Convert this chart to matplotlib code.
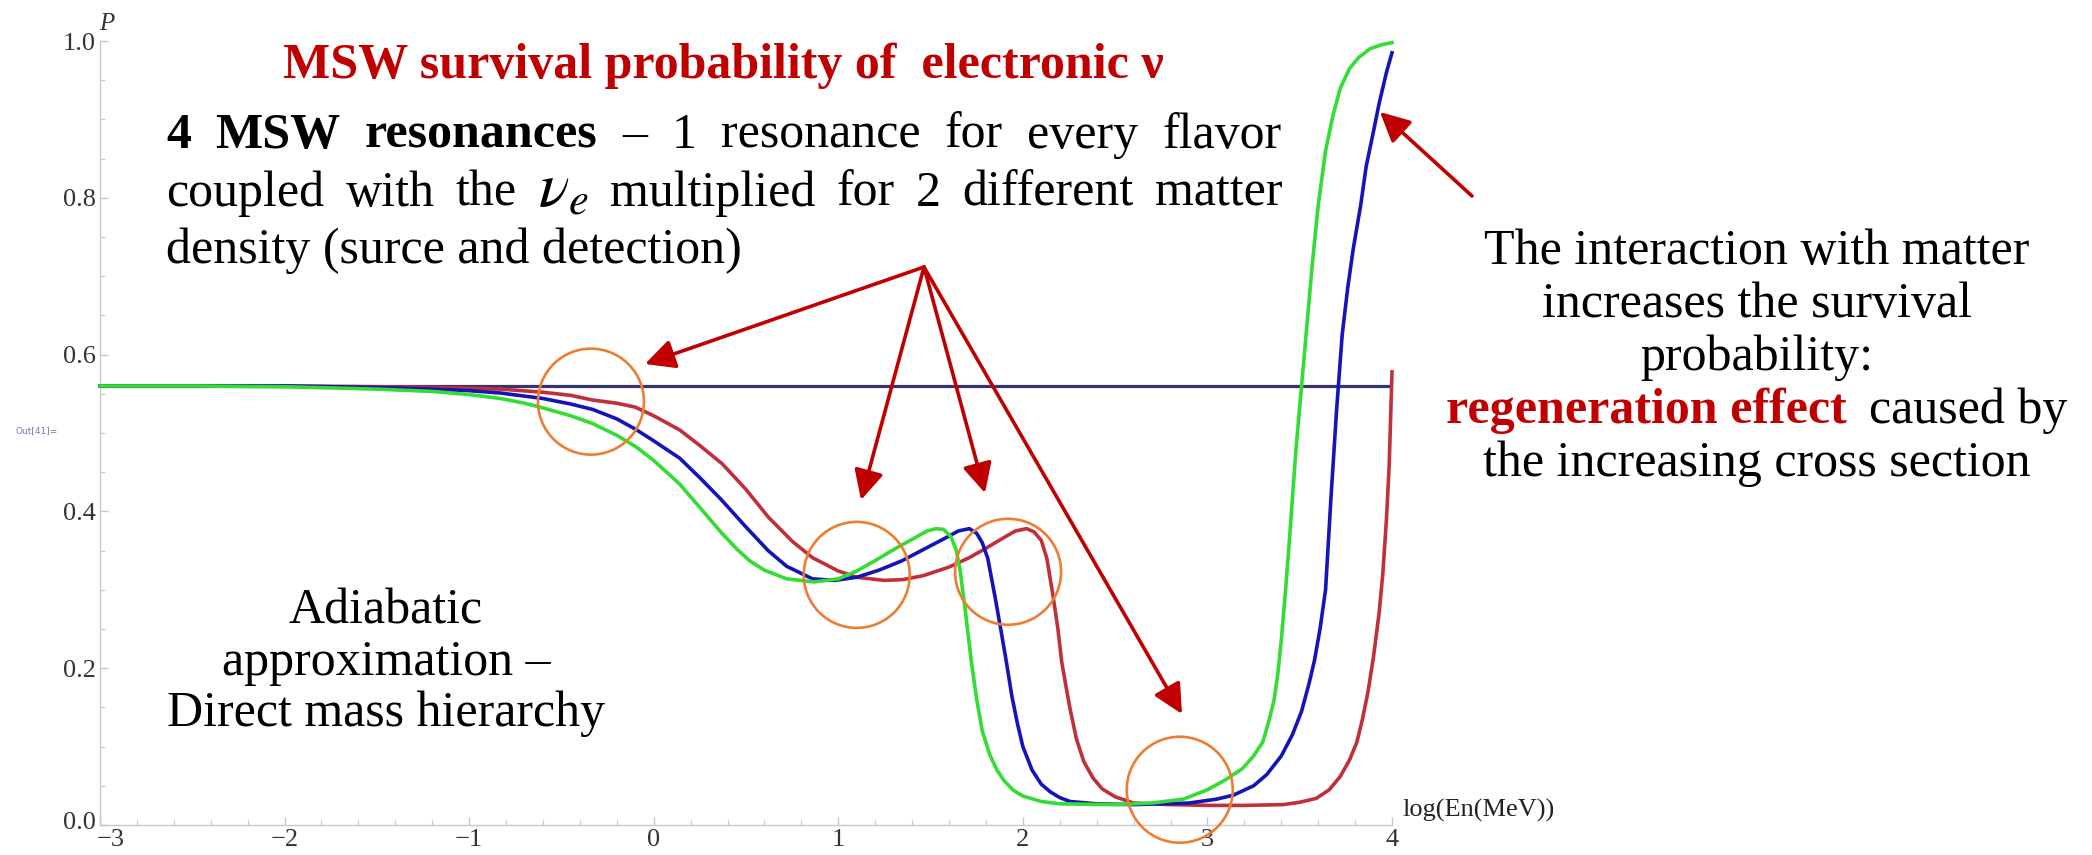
import matplotlib
matplotlib.use("Agg")
import matplotlib.pyplot as plt
from matplotlib.patches import Ellipse
from matplotlib.ticker import MultipleLocator
from matplotlib.transforms import ScaledTranslation

W, H = 2092, 855

# survival probability vs log10(E/MeV)
x_green = [-3.0, -2.5, -2.0, -1.5, -1.2, -1.0, -0.83, -0.7, -0.6, -0.45,
           -0.33, -0.2, -0.1, 0.0, 0.14, 0.25, 0.37, 0.45, 0.52, 0.6,
           0.72, 0.87, 1.0, 1.1, 1.22, 1.32, 1.42, 1.48, 1.53, 1.57,
           1.61, 1.64, 1.66, 1.69, 1.72, 1.75, 1.78, 1.82, 1.86, 1.9,
           1.95, 2.0, 2.1, 2.2, 2.5, 2.7, 2.87, 3.0, 3.1, 3.19,
           3.25, 3.3, 3.33, 3.36, 3.38, 3.40, 3.42, 3.44, 3.46, 3.48,
           3.51, 3.54, 3.57, 3.60, 3.64, 3.68, 3.72, 3.77, 3.82, 3.88,
           3.94, 4.0]
p_green = [0.560, 0.560, 0.559, 0.556, 0.553, 0.549, 0.544, 0.538, 0.532, 0.522,
           0.512, 0.497, 0.483, 0.465, 0.435, 0.405, 0.372, 0.352, 0.337, 0.325,
           0.314, 0.310, 0.314, 0.324, 0.340, 0.354, 0.367, 0.375, 0.378, 0.377,
           0.368, 0.350, 0.325, 0.270, 0.210, 0.160, 0.120, 0.090, 0.070, 0.056,
           0.044, 0.037, 0.030, 0.027, 0.026, 0.028, 0.033, 0.045, 0.058, 0.072,
           0.088, 0.106, 0.130, 0.158, 0.190, 0.235, 0.290, 0.350, 0.415, 0.480,
           0.560, 0.640, 0.720, 0.790, 0.860, 0.905, 0.940, 0.965, 0.979, 0.990,
           0.995, 0.998]

x_blue = [-3.0, -2.5, -2.0, -1.5, -1.2, -1.0, -0.83, -0.6, -0.45, -0.33,
          -0.2, -0.1, 0.0, 0.14, 0.25, 0.37, 0.5, 0.62, 0.72, 0.86,
          0.98, 1.1, 1.22, 1.345, 1.45, 1.58, 1.65, 1.71, 1.75, 1.78,
          1.81, 1.85, 1.88, 1.91, 1.94, 1.97, 2.0, 2.05, 2.1, 2.15,
          2.2, 2.255, 2.4, 2.6, 2.9, 3.05, 3.14, 3.25, 3.32, 3.4,
          3.46, 3.51, 3.55, 3.58, 3.61, 3.64, 3.67, 3.70, 3.73, 3.76,
          3.79, 3.83, 3.86, 3.9, 3.93, 3.97, 4.0]
p_blue = [0.560, 0.560, 0.560, 0.558, 0.556, 0.554, 0.551, 0.544, 0.537, 0.530,
          0.518, 0.505, 0.490, 0.468, 0.443, 0.414, 0.380, 0.350, 0.330, 0.314,
          0.312, 0.316, 0.325, 0.337, 0.350, 0.366, 0.375, 0.378, 0.372, 0.360,
          0.340, 0.290, 0.250, 0.209, 0.165, 0.130, 0.100, 0.070, 0.052, 0.042,
          0.035, 0.030, 0.027, 0.026, 0.028, 0.033, 0.038, 0.050, 0.064, 0.088,
          0.115, 0.145, 0.180, 0.210, 0.250, 0.300, 0.420, 0.530, 0.625, 0.685,
          0.735, 0.790, 0.840, 0.885, 0.920, 0.960, 0.985]

x_red = [-3.0, -2.5, -2.0, -1.5, -1.2, -1.0, -0.83, -0.6, -0.45, -0.33,
         -0.2, -0.1, 0.0, 0.14, 0.25, 0.37, 0.5, 0.62, 0.75, 0.86,
         1.0, 1.1, 1.25, 1.35, 1.46, 1.6, 1.71, 1.8, 1.9, 1.96,
         2.02, 2.06, 2.10, 2.13, 2.165, 2.19, 2.21, 2.235, 2.255, 2.29,
         2.33, 2.38, 2.43, 2.5, 2.6, 2.8, 3.0, 3.2, 3.41, 3.5,
         3.59, 3.66, 3.72, 3.77, 3.81, 3.84, 3.87, 3.9, 3.93, 3.95,
         3.97, 3.985, 4.0]
p_red = [0.560, 0.560, 0.560, 0.559, 0.558, 0.557, 0.556, 0.552, 0.548, 0.542,
         0.538, 0.533, 0.522, 0.504, 0.484, 0.461, 0.428, 0.393, 0.362, 0.341,
         0.324, 0.316, 0.312, 0.313, 0.318, 0.329, 0.341, 0.353, 0.367, 0.375,
         0.378, 0.374, 0.363, 0.340, 0.290, 0.250, 0.209, 0.175, 0.149, 0.110,
         0.081, 0.060, 0.046, 0.036, 0.028, 0.026, 0.025, 0.025, 0.026, 0.029,
         0.034, 0.045, 0.062, 0.083, 0.106, 0.135, 0.170, 0.215, 0.270, 0.320,
         0.390, 0.460, 0.578]

x_vac = [-3.0, 4.0]
p_vac = [0.56, 0.56]

# resonance markers (log E, P)
res_x = [-0.34, 1.10, 1.92, 2.85]
res_p = [0.540, 0.319, 0.323, 0.045]

plt.rcParams["font.family"] = ["Liberation Serif", "DejaVu Serif"]
plt.rcParams["mathtext.fontset"] = "stix"

fig = plt.figure(figsize=(W / 100, H / 100), dpi=100)
ax = fig.add_axes([100 / W, 1 - 825 / H, 1292 / W, 784 / H])


def fpos(x, y):
    return x / W, 1 - y / H


ax.plot(x_vac, p_vac, color="#34346e", lw=2.3, zorder=2)
ax.plot(x_red, p_red, color="#c0303a", lw=2.6, zorder=3, clip_on=False)
ax.plot(x_blue, p_blue, color="#1414b8", lw=2.6, zorder=4, clip_on=False)
ax.plot(x_green, p_green, color="#33dd33", lw=2.6, zorder=5, clip_on=False)

ax.set_xlim(-3, 4)
ax.set_ylim(0, 1)
for s in ["top", "right"]:
    ax.spines[s].set_visible(False)
for s in ["left", "bottom"]:
    ax.spines[s].set_color("#c8c8c8")
    ax.spines[s].set_linewidth(1.0)
ax.xaxis.set_minor_locator(MultipleLocator(0.2))
ax.yaxis.set_minor_locator(MultipleLocator(0.05))
ax.set_yticks([0, 0.2, 0.4, 0.6, 0.8, 1.0])
ax.set_yticklabels(["0.0", "0.2", "0.4", "0.6", "0.8", "1.0"])
ax.set_xticks([-3, -2, -1, 0, 1, 2, 3, 4])
ax.set_xticklabels(["\u22123", "\u22122", "\u22121", "0", "1", "2", "3", "4"])
ax.tick_params(which="both", direction="in", color="#c8c8c8", labelsize=19,
               labelcolor="#333333")
ax.tick_params(which="major", length=6, width=1)
ax.tick_params(which="minor", length=3.5, width=0.8)
ax.tick_params(axis="y", pad=3)
ax.tick_params(axis="x", pad=3)

# keep the corner labels "0.0" and "-3" apart
first_x = ax.get_xticklabels()[0]
first_x.set_transform(first_x.get_transform()
                      + ScaledTranslation(8 / 72, 0, fig.dpi_scale_trans))
first_y = ax.get_yticklabels()[0]
first_y.set_transform(first_y.get_transform()
                      + ScaledTranslation(0, 3 / 72, fig.dpi_scale_trans))

ax.text(-0.001, 1.008, "P", transform=ax.transAxes, fontsize=18, style="italic",
        color="#333333", ha="left", va="bottom")
ax.text(1.008, 0.004, "log(En(MeV))", transform=ax.transAxes, fontsize=19,
        color="#222222", ha="left", va="bottom")
fig.text(*fpos(16, 431), "Out[41]=", fontsize=6.5, color="#6c7bb0",
         family="DejaVu Sans", va="center")

# resonance circles
for cx, cp in zip(res_x, res_p):
    ax.add_patch(Ellipse((cx, cp), 106 / 184.57, 106 / 784, fill=False,
                         ec="#ed7d31", lw=1.9, zorder=6, clip_on=False))

# arrows
hub = fpos(924, 267)
tips = [(645, 364), (861, 500), (985, 493), (1182, 714)]
arrow_kw = dict(arrowstyle="-|>,head_length=0.9,head_width=0.45",
                color="#c00000", lw=2.6, mutation_scale=20,
                shrinkA=0, shrinkB=0)
for tx, ty in tips:
    ax.annotate("", xy=fpos(tx, ty), xytext=hub, xycoords="figure fraction",
                textcoords="figure fraction", arrowprops=arrow_kw, zorder=7)
ax.annotate("", xy=fpos(1380, 112), xytext=fpos(1472, 196),
            xycoords="figure fraction", textcoords="figure fraction",
            arrowprops=arrow_kw, zorder=7)

renderer = fig.canvas.get_renderer()


def width_of(t):
    return t.get_window_extent(renderer).width


def make_texts(parts, size):
    objs = []
    for s, kw in parts:
        opts = dict(fontsize=size, va="baseline")
        opts.update(kw)
        objs.append(fig.text(0, 0, s, **opts))
    return objs


def justified(words, left, right, base, size=36):
    objs = make_texts(words, size)
    widths = [width_of(t) for t in objs]
    gap = (right - left - sum(widths)) / (len(objs) - 1)
    x = left
    for t, w in zip(objs, widths):
        t.set_position(fpos(x, base))
        x += w + gap


def centered(parts, cx, base, size=36, gap=0):
    objs = make_texts(parts, size)
    widths = [width_of(t) for t in objs]
    x = cx - (sum(widths) + gap * (len(objs) - 1)) / 2
    for t, w in zip(objs, widths):
        t.set_position(fpos(x, base))
        x += w + gap


fig.text(*fpos(723, 78), "MSW survival probability of  electronic \u03bd",
         fontsize=36, weight="bold", color="#c00000", ha="center",
         va="baseline")

b = dict(weight="bold")
n = {}
justified([("4", b), ("MSW", b), ("resonances", b), ("\u2013", n), ("1", n),
           ("resonance", n), ("for", n), ("every", n), ("flavor", n)],
          166, 1282, 148)
justified([("coupled", n), ("with", n), ("the", n),
           (r"$\nu_e$", dict(fontsize=46)), ("multiplied", n), ("for", n),
           ("2", n), ("different", n), ("matter", n)],
          166, 1282, 206)
fig.text(*fpos(166, 263), "density (surce and detection)", fontsize=36,
         va="baseline")

for line, base in [("Adiabatic", 623), ("approximation \u2013", 675),
                   ("Direct mass hierarchy", 726)]:
    fig.text(*fpos(386, base), line, fontsize=36, ha="center", va="baseline")

for line, base in [("The interaction with matter", 264),
                   ("increases the survival", 317),
                   ("probability:", 370)]:
    fig.text(*fpos(1757, base), line, fontsize=36, ha="center", va="baseline")
centered([("regeneration effect", dict(weight="bold", color="#c00000")),
          ("caused by", n)], 1757, 423, gap=22)
fig.text(*fpos(1757, 476), "the increasing cross section", fontsize=36,
         ha="center", va="baseline")

fig.savefig("out.png", dpi=100, facecolor="white")
